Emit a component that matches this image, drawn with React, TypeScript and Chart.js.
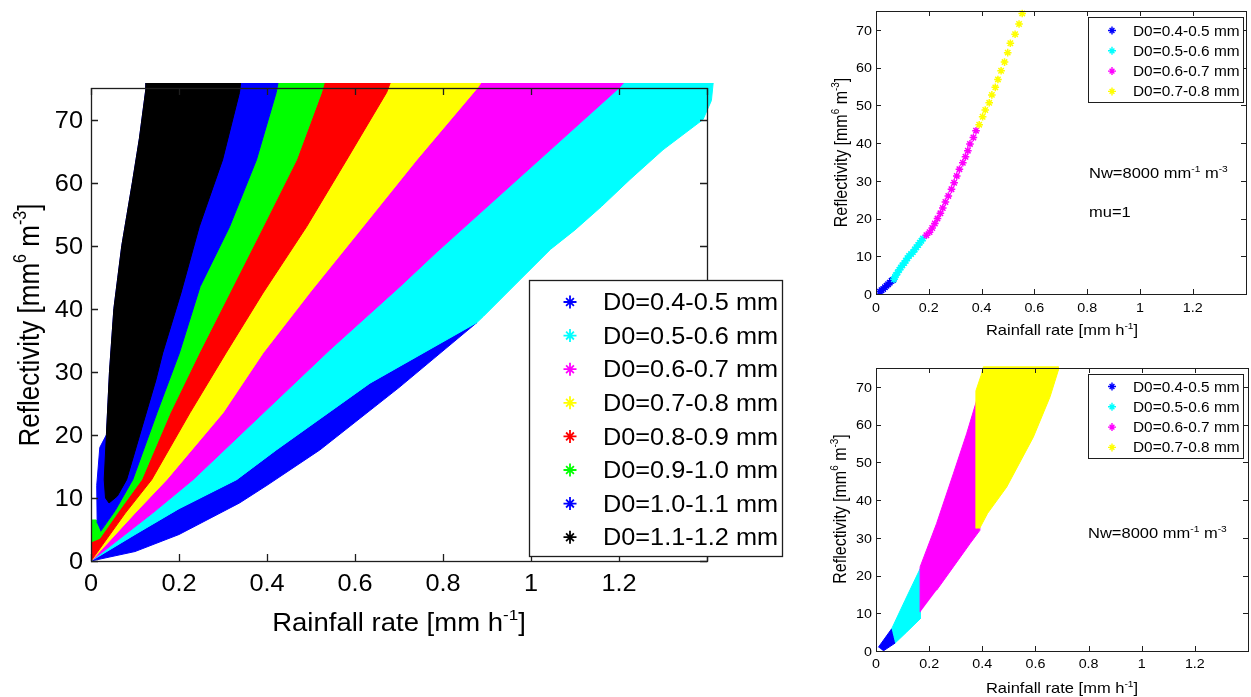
import React, { useEffect, useRef } from 'react';
import { Chart, registerables } from 'chart.js';

Chart.register(...registerables);

const W = 1251;
const H = 697;
const FONT = '"Liberation Sans", Arial, Helvetica, sans-serif';
const STRETCH = 1.1;

type P = [number, number];
type Part = { t: string; sup?: boolean };

// ================= Main panel: boundaries of the D0 classes =================
// each pair is [rainfall rate (mm h-1), reflectivity (mm6 m-3)]
const edgeOuterD04: P[] = [[0, 0], [0.10, 1.5], [0.20, 4.2], [0.3375, 9.2], [0.40, 12.0], [0.52, 17.6], [0.70, 27.5], [0.877, 37.8]];
const edgeD04D05: P[] = [[0, 0], [0.10, 4.2], [0.20, 8.3], [0.331, 12.9], [0.421, 17.6], [0.634, 28.2], [0.877, 37.8]];
const edgeOuterD05: P[] = [[0.892, 38.8], [0.968, 44.1], [1.044, 49.4], [1.10, 52.5], [1.16, 56.2], [1.225, 60.5], [1.30, 65.2], [1.391, 70], [1.41, 73], [1.414, 75.8]];
const edgeD05D06: P[] = [[0, 0], [0.14, 7.6], [0.232, 12.9], [0.383, 22.9], [0.543, 33.5], [0.702, 43.5], [0.786, 49.0], [1.044, 65.2], [1.20, 75], [1.21, 75.8]];
const edgeD06D07: P[] = [[0, 0], [0.10, 7.6], [0.172, 12.9], [0.30, 23.5], [0.391, 33], [0.50, 42.8], [0.618, 53], [0.74, 63.6], [0.878, 75], [0.886, 75.8]];
const edgeD07D08: P[] = [[0, 0], [0.078, 7.6], [0.138, 12.9], [0.225, 23.5], [0.307, 33], [0.391, 42.5], [0.49, 53], [0.581, 63.6], [0.672, 74.3], [0.68, 75.8]];
const edgeD08D09: P[] = [[0, 3.0], [0.02, 3.6], [0.06, 7.6], [0.115, 12.9], [0.18, 23.5], [0.246, 33], [0.315, 42.5], [0.391, 53], [0.467, 63.6], [0.524, 74.3], [0.53, 75.8]];
const edgeD09D10: P[] = [[0, 6.5], [0.012, 6.5], [0.022, 4.7], [0.055, 8.0], [0.095, 12.9], [0.15, 23.5], [0.201, 33], [0.248, 43.5], [0.315, 53], [0.376, 63.6], [0.421, 74.3], [0.425, 75.8]];
const edgeD10D11: P[] = [[0.041, 9.2], [0.06, 10.3], [0.081, 12.9], [0.1475, 28.7], [0.163, 33], [0.2045, 42.5], [0.246, 53], [0.299, 63.6], [0.3375, 74.3], [0.34, 75.8]];
const edgeLeftD11: P[] = [[0.041, 9.2], [0.033, 10], [0.030, 12.9], [0.035, 20], [0.042, 30], [0.052, 40], [0.061, 45], [0.07, 50], [0.082, 55], [0.094, 60], [0.11, 67], [0.125, 75], [0.127, 75.8]];
const edgeLeftD10: P[] = [[0.020, 18], [0.013, 12], [0.014, 6]];

const mainLabels = ['D0=0.4-0.5 mm', 'D0=0.5-0.6 mm', 'D0=0.6-0.7 mm', 'D0=0.7-0.8 mm', 'D0=0.8-0.9 mm', 'D0=0.9-1.0 mm', 'D0=1.0-1.1 mm', 'D0=1.1-1.2 mm'];
const mainColors = ['#0000ff', '#00ffff', '#ff00ff', '#ffff00', '#ff0000', '#00ff00', '#0000ff', '#000000'];

// ================= Top-right panel: Nw = 8000, mu = 1 =================
const topD04: P[] = [[0.015, 0.6], [0.021, 1.0], [0.027, 1.3], [0.034, 1.8], [0.040, 2.2], [0.046, 2.6], [0.052, 3.0], [0.059, 3.5], [0.064, 3.7]];
const topD05: P[] = [[0.068, 3.9], [0.072, 4.5], [0.075, 5.0], [0.082, 5.7], [0.088, 6.4], [0.094, 7.0], [0.100, 7.6], [0.107, 8.2], [0.113, 8.8], [0.119, 9.5], [0.125, 10.1], [0.133, 10.6], [0.140, 11.1], [0.147, 11.8], [0.153, 12.4], [0.160, 13.0], [0.166, 13.6], [0.172, 14.1], [0.178, 14.7]];
const topD06: P[] = [[0.191, 15.6], [0.203, 16.4], [0.213, 17.5], [0.223, 18.7], [0.233, 20.0], [0.244, 21.4], [0.253, 22.8], [0.263, 24.4], [0.274, 26.0], [0.286, 27.8], [0.296, 29.5], [0.306, 31.3], [0.316, 33.1], [0.329, 34.8], [0.339, 36.4], [0.348, 38.0], [0.356, 39.8], [0.369, 41.5], [0.379, 43.3]];
const topD07: P[] = [[0.391, 44.9], [0.404, 47.0], [0.414, 48.8], [0.429, 50.7], [0.439, 52.8], [0.452, 54.8], [0.462, 56.9], [0.474, 59.2], [0.487, 61.5], [0.499, 64.0], [0.509, 66.5], [0.527, 68.9], [0.542, 71.6], [0.554, 74.4]];

// ================= Bottom-right panel: Nw = 8000, all mu =================
const botD04: P[] = [[0.009, 1.0], [0.059, 5.9], [0.072, 2.1], [0.027, 0]];
const botD05: P[] = [[0.059, 5.9], [0.109, 13.4], [0.166, 21.8], [0.166, 8.5], [0.115, 5.0], [0.072, 2.1]];
const botD06: P[] = [[0.166, 10.3], [0.166, 22.3], [0.228, 33.8], [0.291, 47.0], [0.341, 57.6], [0.379, 66.5], [0.391, 32.0], [0.354, 28.5], [0.291, 22.3], [0.228, 16.1]];
const botD07: P[] = [[0.376, 32.5], [0.376, 69], [0.395, 73], [0.404, 75.4], [0.686, 75.4], [0.686, 74.4], [0.655, 67.4], [0.592, 56.7], [0.492, 43.5], [0.42, 36.5], [0.39, 32.5]];

const smallLabels = ['D0=0.4-0.5 mm', 'D0=0.5-0.6 mm', 'D0=0.6-0.7 mm', 'D0=0.7-0.8 mm'];
const smallColors = ['#0000ff', '#00ffff', '#ff00ff', '#ffff00'];

// ================= Axes =================
const xTickValues = [0, 0.2, 0.4, 0.6, 0.8, 1, 1.2, 1.4];
const xTickLabels = ['0', '0.2', '0.4', '0.6', '0.8', '1', '1.2', ''];
const yTickValues = [0, 10, 20, 30, 40, 50, 60, 70];
const yTickLabels = ['0', '10', '20', '30', '40', '50', '60', '70'];

const xTitleParts: Part[] = [{ t: 'Rainfall rate [mm h' }, { t: '-1', sup: true }, { t: ']' }];
const yTitleParts: Part[] = [{ t: 'Reflectivity [mm' }, { t: '6', sup: true }, { t: ' m' }, { t: '-3', sup: true }, { t: ']' }];
const nwParts: Part[] = [{ t: 'Nw=8000 mm' }, { t: '-1', sup: true }, { t: ' m' }, { t: '-3', sup: true }];
const muParts: Part[] = [{ t: 'mu=1' }];

// ================= helpers =================
const rev = (a: P[]) => a.slice().reverse();
const toXY = (a: P[]) => a.map(([x, y]) => ({ x, y }));

function richText(ctx: CanvasRenderingContext2D, parts: Part[], x: number, y: number, size: number, align: 'left' | 'center' | 'right', rotate = false) {
  const supSize = size * 0.62;
  const widths = parts.map((p) => {
    ctx.font = `${p.sup ? supSize : size}px ${FONT}`;
    return ctx.measureText(p.t).width;
  });
  const total = widths.reduce((a, b) => a + b, 0);
  ctx.save();
  ctx.translate(x, y);
  ctx.scale(STRETCH, 1);
  if (rotate) ctx.rotate(-Math.PI / 2);
  ctx.fillStyle = '#000';
  ctx.textBaseline = 'alphabetic';
  ctx.textAlign = 'left';
  let cx = align === 'left' ? 0 : align === 'center' ? -total / 2 : -total;
  const base = size * 0.36;
  parts.forEach((p, i) => {
    ctx.font = `${p.sup ? supSize : size}px ${FONT}`;
    ctx.fillText(p.t, cx, p.sup ? base - size * 0.45 : base);
    cx += widths[i];
  });
  ctx.restore();
}

function drawStar(ctx: CanvasRenderingContext2D, x: number, y: number, r: number, color: string, lw: number) {
  ctx.save();
  ctx.strokeStyle = color;
  ctx.lineWidth = lw;
  ctx.beginPath();
  ctx.moveTo(x - r, y); ctx.lineTo(x + r, y);
  ctx.moveTo(x, y - r); ctx.lineTo(x, y + r);
  const d = r * 0.6;
  ctx.moveTo(x - d, y - d); ctx.lineTo(x + d, y + d);
  ctx.moveTo(x - d, y + d); ctx.lineTo(x + d, y - d);
  ctx.stroke();
  ctx.restore();
}

interface Decor {
  frameX: number; frameY: number; frameLW: number;
  tickLen: number; tickFont: number; xLabelY: number; yLabelX: number;
  xTitlePos: [number, number]; xTitleFont: number;
  yTitlePos: [number, number]; yTitleFont: number;
  legend: { box: [number, number, number, number]; rowY0: number; rowDy: number; markX: number; textX: number; font: number; markR: number; markLW: number; labels: string[]; colors: string[] };
  notes: { parts: Part[]; x: number; y: number }[];
  noteFont: number;
}

function makeDecor(cfg: Decor) {
  return {
    id: 'decor',
    afterDatasetsDraw(chart: any) {
      const ctx: CanvasRenderingContext2D = chart.ctx;
      const xs = chart.scales.x;
      const ys = chart.scales.y;
      const X0 = Math.round(xs.getPixelForValue(0));
      const X1 = Math.round(xs.getPixelForValue(cfg.frameX));
      const Y0 = Math.round(ys.getPixelForValue(0));
      const Y1 = Math.round(ys.getPixelForValue(cfg.frameY));
      ctx.save();
      ctx.strokeStyle = '#1e1e1e';
      ctx.lineWidth = cfg.frameLW;
      ctx.strokeRect(X0 + 0.5, Y1 + 0.5, X1 - X0, Y0 - Y1);
      ctx.beginPath();
      const L = cfg.tickLen;
      xTickValues.forEach((v) => {
        const px = Math.round(xs.getPixelForValue(v)) + 0.5;
        ctx.moveTo(px, Y0); ctx.lineTo(px, Y0 - L);
        ctx.moveTo(px, Y1); ctx.lineTo(px, Y1 + L);
      });
      yTickValues.forEach((v) => {
        const py = Math.round(ys.getPixelForValue(v)) + 0.5;
        ctx.moveTo(X0, py); ctx.lineTo(X0 + L, py);
        ctx.moveTo(X1, py); ctx.lineTo(X1 - L, py);
      });
      ctx.stroke();
      ctx.restore();

      xTickValues.forEach((v, i) => {
        if (!xTickLabels[i]) return;
        richText(ctx, [{ t: xTickLabels[i] }], xs.getPixelForValue(v), cfg.xLabelY, cfg.tickFont, 'center');
      });
      yTickValues.forEach((v, i) => {
        richText(ctx, [{ t: yTickLabels[i] }], cfg.yLabelX, ys.getPixelForValue(v), cfg.tickFont, 'right');
      });
      richText(ctx, xTitleParts, cfg.xTitlePos[0], cfg.xTitlePos[1], cfg.xTitleFont, 'center');
      richText(ctx, yTitleParts, cfg.yTitlePos[0], cfg.yTitlePos[1], cfg.yTitleFont, 'center', true);

      const lg = cfg.legend;
      ctx.save();
      ctx.fillStyle = '#fff';
      ctx.fillRect(lg.box[0], lg.box[1], lg.box[2], lg.box[3]);
      ctx.strokeStyle = '#1e1e1e';
      ctx.lineWidth = cfg.frameLW;
      ctx.strokeRect(lg.box[0] + 0.5, lg.box[1] + 0.5, lg.box[2], lg.box[3]);
      ctx.restore();
      lg.labels.forEach((lab, i) => {
        const ry = lg.rowY0 + i * lg.rowDy;
        drawStar(ctx, lg.markX, ry, lg.markR, lg.colors[i], lg.markLW);
        richText(ctx, [{ t: lab }], lg.textX, ry, lg.font, 'left');
      });
      cfg.notes.forEach((n) => richText(ctx, n.parts, n.x, n.y, cfg.noteFont, 'left'));
    },
  };
}

function polygonDataset(shape: P[], color: string, order: number) {
  return {
    data: toXY(shape),
    showLine: true,
    fill: 'shape',
    backgroundColor: color,
    borderColor: color,
    borderWidth: 1,
    pointRadius: 0,
    pointHoverRadius: 0,
    tension: 0,
    order,
  };
}

function baseOptions(padding: any, xMax: number, yMax: number) {
  return {
    animation: false,
    responsive: false,
    devicePixelRatio: 1,
    events: [],
    layout: { padding },
    scales: {
      x: { type: 'linear', min: 0, max: xMax, display: false },
      y: { type: 'linear', min: 0, max: yMax, display: false },
    },
    plugins: { legend: { display: false }, tooltip: { enabled: false } },
  };
}

function mainConfig(): any {
  const shapes: P[][] = [
    [...edgeOuterD04, ...rev(edgeD04D05)],
    [...edgeD04D05, ...edgeOuterD05, ...rev(edgeD05D06)],
    [...edgeD05D06, ...rev(edgeD06D07)],
    [...edgeD06D07, ...rev(edgeD07D08)],
    [...edgeD07D08, ...rev(edgeD08D09)],
    [...edgeD08D09, ...rev(edgeD09D10)],
    [...edgeD09D10.slice(2), ...rev(edgeLeftD11.slice(3)), ...edgeLeftD10],
    [...edgeD10D11, ...rev(edgeLeftD11)],
  ];
  const pxPerR = 440;
  const pxPerZ = 6.3067;
  const left = 91, bottom = 561;
  const xMax = 1.42, yMax = 75.8;
  return {
    type: 'scatter',
    data: { datasets: shapes.map((s, i) => polygonDataset(s, mainColors[i], shapes.length - i)) },
    options: baseOptions({ left, top: bottom - yMax * pxPerZ, right: W - (left + xMax * pxPerR), bottom: H - bottom }, xMax, yMax),
    plugins: [makeDecor({
      frameX: 1.4, frameY: 75, frameLW: 1.3,
      tickLen: 7, tickFont: 23, xLabelY: 583, yLabelX: 83,
      xTitlePos: [399, 622], xTitleFont: 25,
      yTitlePos: [29, 325], yTitleFont: 26,
      legend: { box: [529, 280, 253, 276], rowY0: 302, rowDy: 33.6, markX: 570, textX: 603, font: 23, markR: 6.5, markLW: 1.8, labels: mainLabels, colors: mainColors },
      notes: [], noteFont: 15,
    })],
  };
}

function smallPadding(zeroY: number, yMax: number) {
  const pxPerZ = 3.771;
  return { left: 876, right: W - 1248, top: zeroY - yMax * pxPerZ, bottom: H - zeroY };
}

function topConfig(): any {
  const sets = [topD04, topD05, topD06, topD07];
  return {
    type: 'scatter',
    data: {
      datasets: sets.map((s, i) => ({
        data: toXY(s),
        pointStyle: 'star',
        pointRadius: 3.8,
        borderWidth: 1.5,
        borderColor: smallColors[i],
        backgroundColor: smallColors[i],
        order: sets.length - i,
      })),
    },
    options: baseOptions(smallPadding(294, 75.5), 1.4, 75.5),
    plugins: [makeDecor({
      frameX: 1.4, frameY: 75, frameLW: 1,
      tickLen: 5, tickFont: 13, xLabelY: 307, yLabelX: 872,
      xTitlePos: [1062, 330], xTitleFont: 15,
      yTitlePos: [841, 152.5], yTitleFont: 16,
      legend: { box: [1088, 17, 155, 85], rowY0: 30.5, rowDy: 20.3, markX: 1112, textX: 1133, font: 14, markR: 4, markLW: 1.4, labels: smallLabels, colors: smallColors },
      notes: [{ parts: nwParts, x: 1089, y: 173 }, { parts: muParts, x: 1089, y: 212 }],
      noteFont: 15,
    })],
  };
}

function bottomConfig(): any {
  const shapes = [botD04, botD05, botD06, botD07];
  return {
    type: 'scatter',
    data: { datasets: shapes.map((s, i) => polygonDataset(s, smallColors[i], shapes.length - i)) },
    options: baseOptions(smallPadding(651, 75.5), 1.4, 75.5),
    plugins: [makeDecor({
      frameX: 1.4, frameY: 75, frameLW: 1,
      tickLen: 5, tickFont: 13, xLabelY: 663, yLabelX: 872,
      xTitlePos: [1062, 688], xTitleFont: 15,
      yTitlePos: [840, 509], yTitleFont: 16,
      legend: { box: [1088, 374, 155, 84], rowY0: 386.5, rowDy: 20.3, markX: 1112, textX: 1133, font: 14, markR: 4, markLW: 1.4, labels: smallLabels, colors: smallColors },
      notes: [{ parts: nwParts, x: 1088, y: 533 }],
      noteFont: 15,
    })],
  };
}

export default function App() {
  const r1 = useRef<HTMLCanvasElement>(null);
  const r2 = useRef<HTMLCanvasElement>(null);
  const r3 = useRef<HTMLCanvasElement>(null);

  useEffect(() => {
    document.body.style.margin = '0';
    const charts = [
      new Chart(r1.current as HTMLCanvasElement, mainConfig()),
      new Chart(r2.current as HTMLCanvasElement, topConfig()),
      new Chart(r3.current as HTMLCanvasElement, bottomConfig()),
    ];
    return () => charts.forEach((c) => c.destroy());
  }, []);

  const style: React.CSSProperties = { position: 'absolute', left: 0, top: 0, width: W, height: H };
  return (
    <div style={{ position: 'fixed', left: 0, top: 0, width: W, height: H, background: '#fff', overflow: 'hidden' }}>
      <canvas ref={r1} width={W} height={H} style={style} />
      <canvas ref={r2} width={W} height={H} style={style} />
      <canvas ref={r3} width={W} height={H} style={style} />
    </div>
  );
}
